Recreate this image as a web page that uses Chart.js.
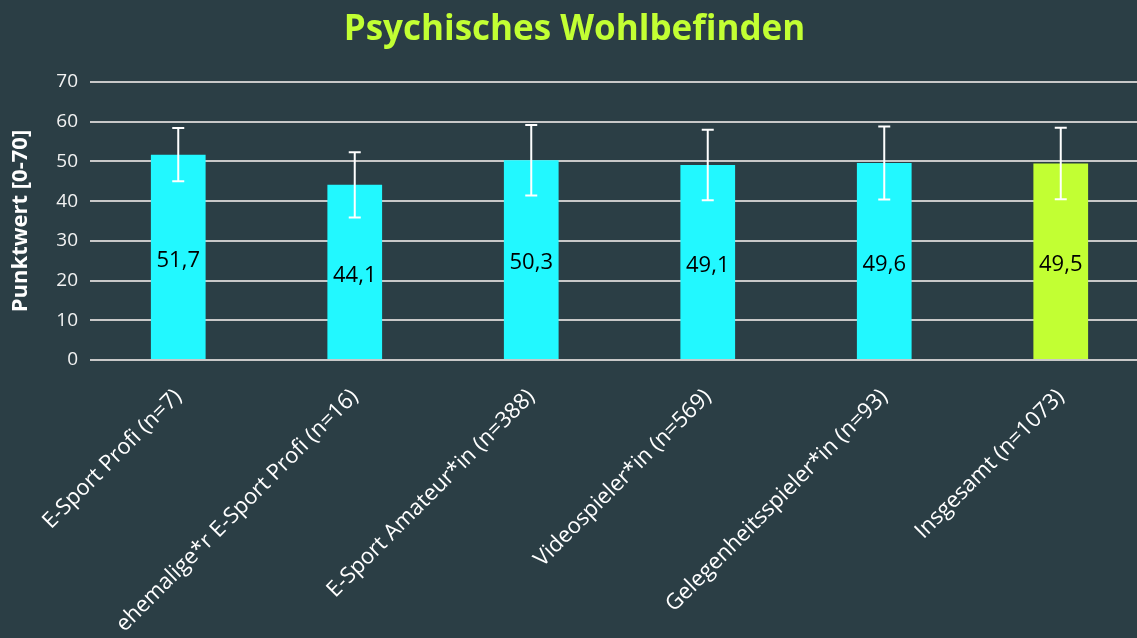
<!DOCTYPE html>
<html>
<head>
<meta charset="utf-8">
<script src="https://cdn.jsdelivr.net/npm/chart.js@4"></script>
<style>
  html, body { margin: 0; padding: 0; background: #2b3e45; overflow: hidden; }
  #wrap { width: 1149px; height: 638px; position: relative; }
</style>
</head>
<body>
<div id="wrap"><canvas id="chart"></canvas></div>
<script>
// Data
const categories = [
  'E-Sport Profi (n=7)',
  'ehemalige*r E-Sport Profi (n=16)',
  'E-Sport Amateur*in (n=388)',
  'Videospieler*in (n=569)',
  'Gelegenheitsspieler*in (n=93)',
  'Insgesamt (n=1073)'
]
const means = [51.7, 44.1, 50.3, 49.1, 49.6, 49.5]
const sds = [6.7, 8.2, 8.9, 8.9, 9.2, 9.0]
const barColors = ['#22f8ff', '#22f8ff', '#22f8ff', '#22f8ff', '#22f8ff', '#c2ff33']
const yMax = 70
const yStep = 10

const font = '"Open Sans", "Noto Sans", sans-serif'

// Error bars + value labels
const errorBars = {
  id: 'errorBars',
  afterDatasetsDraw(chart) {
    const { ctx } = chart
    const meta = chart.getDatasetMeta(0)
    const y = chart.scales.y
    ctx.save()
    meta.data.forEach((bar, i) => {
      const top = y.getPixelForValue(means[i] + sds[i])
      const bottom = y.getPixelForValue(means[i] - sds[i])
      const x = bar.x
      ctx.strokeStyle = '#ffffff'
      ctx.lineWidth = 2
      ctx.beginPath()
      ctx.moveTo(x, top); ctx.lineTo(x, bottom)
      ctx.moveTo(x - 6, top); ctx.lineTo(x + 6, top)
      ctx.moveTo(x - 6, bottom); ctx.lineTo(x + 6, bottom)
      ctx.stroke()

      // value label centred in the bar
      const mid = y.getPixelForValue(means[i] / 2) + 3
      ctx.fillStyle = '#000000'
      ctx.font = '22px ' + font
      ctx.textAlign = 'center'
      ctx.textBaseline = 'middle'
      ctx.fillText(means[i].toFixed(1).replace('.', ','), x, mid)
    })
    ctx.restore()
  }
}

new Chart(document.getElementById('chart'), {
  type: 'bar',
  data: {
    labels: categories,
    datasets: [{
      data: means,
      backgroundColor: barColors,
      borderWidth: 0,
      barPercentage: 0.31,
      categoryPercentage: 1
    }]
  },
  options: {
    responsive: true,
    maintainAspectRatio: false,
    animation: false,
    layout: { padding: { top: 9, left: 0, right: 0, bottom: 0 } },
    plugins: {
      legend: { display: false },
      tooltip: { enabled: false },
      title: {
        display: true,
        text: 'Psychisches Wohlbefinden',
        color: '#c2ff33',
        font: { family: font, size: 35, weight: 'bold' },
        padding: { top: 0, bottom: 31 }
      }
    },
    scales: {
      x: {
        grid: { display: false },
        border: { display: false },
        ticks: {
          color: '#ffffff',
          font: { family: font, size: 22 },
          minRotation: 45,
          maxRotation: 45,
          autoSkip: false,
          padding: 16
        },
        afterFit: scale => { scale.height = 278 }
      },
      y: {
        min: 0,
        max: yMax,
        grid: { color: '#c8c8c8', lineWidth: 2, drawTicks: false },
        border: { display: false },
        ticks: {
          stepSize: yStep,
          color: '#f2f2f2',
          font: { family: font, size: 19 },
          padding: 12
        },
        title: {
          display: true,
          text: 'Punktwert [0-70]',
          color: '#ffffff',
          font: { family: font, size: 22, weight: 'bold' },
          padding: { top: 8, bottom: 0 }
        },
        afterFit: scale => { scale.width = 90 }
      }
    }
  },
  plugins: [errorBars]
})
</script>
</body>
</html>
